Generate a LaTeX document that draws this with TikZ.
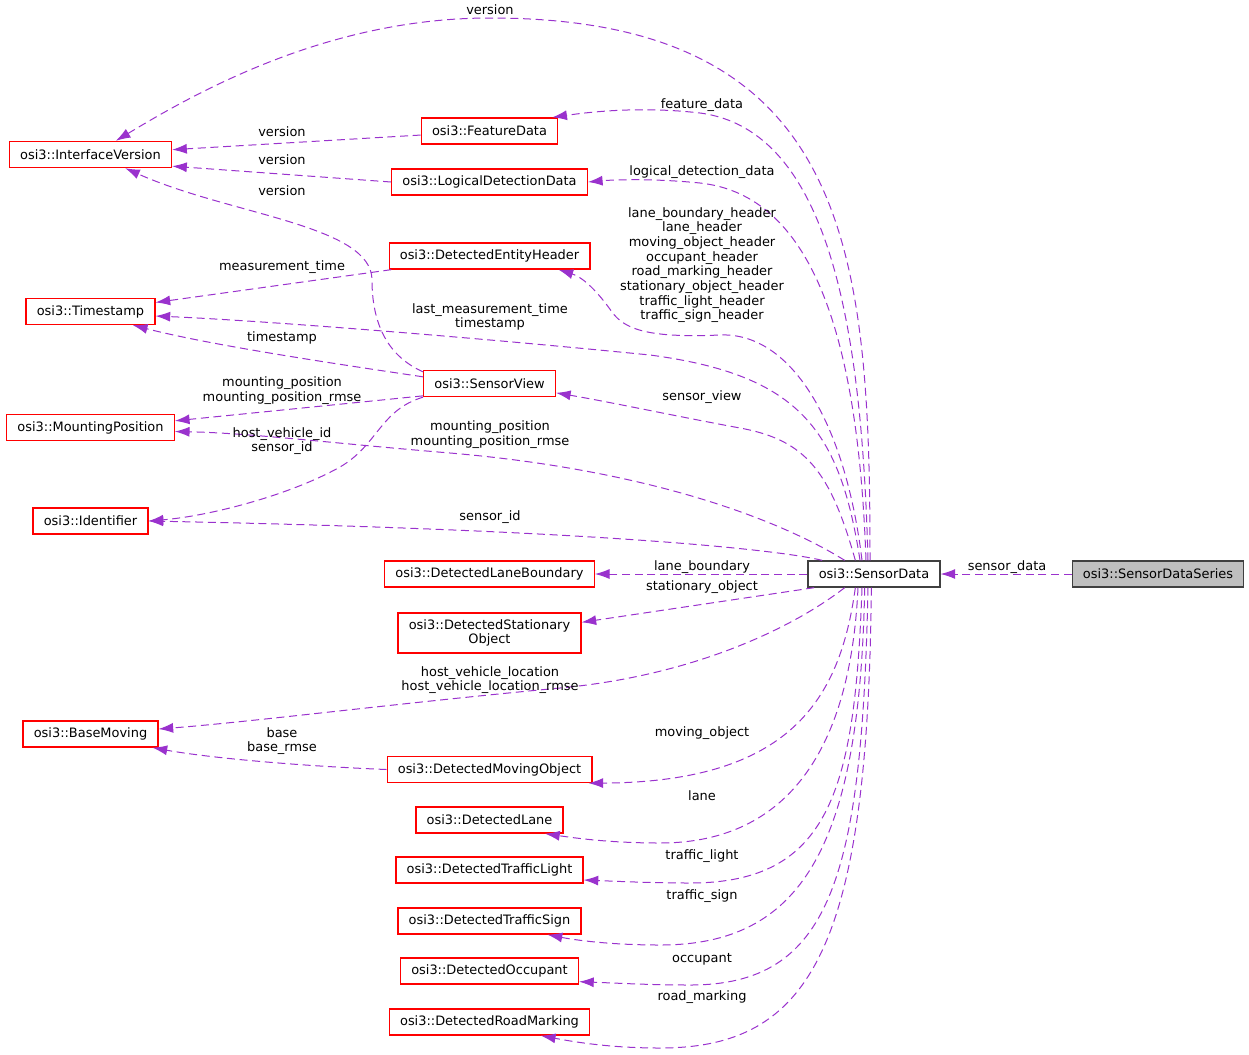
\documentclass[tikz,border=0pt]{standalone}
\usepackage{fontspec}
\setmainfont{DejaVu Sans}
\usetikzlibrary{arrows.meta}
\definecolor{edgecol}{RGB}{154,50,205}
\definecolor{sdsgray}{RGB}{191,191,191}
\definecolor{bordergray}{RGB}{64,64,64}

\begin{document}
\begin{tikzpicture}[x=0.75pt,y=-0.75pt,
    every node/.style={font=\fontsize{9.7}{11}\selectfont},
    cls/.style={draw=red, line width=1pt, inner xsep=8pt, inner ysep=0pt, minimum height=19.5pt},
    cur/.style={draw=bordergray, line width=1pt, inner xsep=8pt, inner ysep=0pt, minimum height=19.5pt},
    lbl/.style={align=center, inner sep=0pt},
    member/.style={draw=edgecol, line width=0.75pt, dash pattern=on 6pt off 3.5pt, -{Latex[length=11pt,width=7.5pt]}}]
  \useasboundingbox (0,0) rectangle (1249,1054);

  % classes
  \node[cls] (iv) at (90.5,154.5) {osi3::InterfaceVersion};
  \node[cls] (fd) at (489.5,131) {osi3::FeatureData};
  \node[cls] (ldd) at (489.5,182) {osi3::LogicalDetectionData};
  \node[cls] (deh) at (489.5,256) {osi3::DetectedEntityHeader};
  \node[cls] (ts) at (90.5,311.5) {osi3::Timestamp};
  \node[cls] (sv) at (489.5,383.5) {osi3::SensorView};
  \node[cls] (mp) at (90.5,427.5) {osi3::MountingPosition};
  \node[cls] (id) at (90.5,521) {osi3::Identifier};
  \node[cls] (dlb) at (489.5,574) {osi3::DetectedLaneBoundary};
  \node[cls, align=center, minimum height=30pt] (dso) at (489.5,633) {osi3::DetectedStationary\\Object};
  \node[cls] (bm) at (90.5,734) {osi3::BaseMoving};
  \node[cls] (dmo) at (489.5,769.5) {osi3::DetectedMovingObject};
  \node[cls] (dl) at (489.5,820) {osi3::DetectedLane};
  \node[cls] (dtl) at (489.5,870) {osi3::DetectedTrafficLight};
  \node[cls] (dts) at (489.5,921) {osi3::DetectedTrafficSign};
  \node[cls] (docc) at (489.5,971) {osi3::DetectedOccupant};
  \node[cls] (drm) at (489.5,1022) {osi3::DetectedRoadMarking};
  \node[cur] (sd) at (874,574) {osi3::SensorData};
  \node[cur, fill=sdsgray] (sds) at (1158,574) {osi3::SensorDataSeries};

  % members of SensorData, upper side
  \draw[member] ([xshift=-3pt]sd.north) .. controls (870,250) and (850,18) .. (490,18)
    .. controls (330,18) and (200,90) .. ([xshift=19pt]iv.north);
  \draw[member] ([xshift=-4.5pt]sd.north) .. controls (862,330) and (830,130) .. (700,113)
    .. controls (640,106) and (590,112) .. ([xshift=-4.5pt]fd.north east);
  \draw[member] ([xshift=-6pt]sd.north) .. controls (858,330) and (810,195) .. (700,183)
    .. controls (650,178) and (610,180) .. (ldd.east);
  \draw[member] ([xshift=-9pt]sd.north) .. controls (845,420) and (790,332) .. (720,335)
    .. controls (650,338) and (625,330) .. (612,312)
    .. controls (600,295) and (585,278) .. ([xshift=-24pt]deh.south east);
  \draw[member] ([xshift=-10.5pt]sd.north) .. controls (840,430) and (800,375) .. (650,355)
    .. controls (450,335) and (250,320) .. ([yshift=-3.4pt]ts.east);
  \draw[member] ([xshift=-14pt]sd.north) .. controls (830,470) and (805,440) .. (740,428)
    .. controls (680,417) and (610,402) .. ([yshift=-7pt]sv.east);
  \draw[member] ([xshift=-22pt]sd.north) .. controls (780,520) and (650,470) .. (450,453)
    .. controls (330,443) and (250,433) .. ([yshift=-3pt]mp.east);
  \draw[member] ([xshift=11pt]sd.north west) .. controls (780,550) and (600,530) .. (id.east);
  \draw[member] (sd) -- (dlb);
  \draw[member] ([xshift=5pt]sd.south west) -- ([yshift=8pt]dso.east);

  % members of SensorData, lower side
  \draw[member] ([xshift=-22pt]sd.south) .. controls (790,630) and (690,676) .. (560,688)
    .. controls (400,703) and (250,722) .. ([yshift=3.75pt]bm.east);
  \draw[member] ([xshift=-14pt]sd.south) .. controls (840,700) and (790,782) .. ([xshift=-3pt]dmo.south east);
  \draw[member] ([xshift=-12pt]sd.south) .. controls (850,760) and (780,843) .. (660,843)
    .. controls (610,843) and (575,838) .. ([xshift=-14pt]dl.south east);
  \draw[member] ([xshift=-9pt]sd.south) .. controls (855,790) and (830,883) .. (690,883)
    .. controls (650,883) and (610,881) .. ([yshift=-7.5pt]dtl.east);
  \draw[member] ([xshift=-7pt]sd.south) .. controls (860,850) and (800,945) .. (660,945)
    .. controls (610,945) and (575,940) .. ([xshift=-25.5pt]dts.south east);
  \draw[member] ([xshift=-4.5pt]sd.south) .. controls (862,880) and (830,985) .. (690,985)
    .. controls (650,985) and (615,983) .. ([yshift=-8pt]docc.east);
  \draw[member] ([xshift=-2pt]sd.south) .. controls (868,950) and (810,1048) .. (660,1048)
    .. controls (610,1048) and (575,1042) .. ([xshift=-37pt]drm.south east);

  % other members
  \draw[member] (fd) -- (iv);
  \draw[member] (ldd.west) -- ([yshift=1.5pt]iv.south east);
  \draw[member] ([yshift=-1.5pt]sv.north west) .. controls (385,355) and (372,320) .. (372,280)
    .. controls (372,225) and (230,215) .. ([xshift=26pt]iv.south);
  \draw[member] (deh) -- (ts);
  \draw[member] ([yshift=5pt]sv.west) .. controls (330,363) and (210,345) .. ([xshift=-17pt]ts.south east);
  \draw[member] ([yshift=1pt]sv.south west) -- ([yshift=5pt]mp.east);
  \draw[member] (sv.south west) .. controls (380,410) and (378,445) .. (340,467)
    .. controls (290,495) and (210,516) .. (id.east);
  \draw[member] (dmo.west) .. controls (300,766) and (210,758) .. ([xshift=-4.5pt]bm.south east);
  \draw[member] (sds) -- (sd);

  % labels
  \node[lbl] (lver1) at (490,10) {version};
  \node[lbl] (lfeat) at (702,105) {feature\_data};
  \node[lbl] (lver2) at (282,132) {version};
  \node[lbl] (lver3) at (282,160) {version};
  \node[lbl] (lldd) at (702,172) {logical\_detection\_data};
  \node[lbl] (lver4) at (282,191) {version};
  \node[lbl] (lhdr) at (702,265) {lane\_boundary\_header\\lane\_header\\moving\_object\_header\\occupant\_header\\road\_marking\_header\\stationary\_object\_header\\traffic\_light\_header\\traffic\_sign\_header};
  \node[lbl] (lmeas) at (282,267) {measurement\_time};
  \node[lbl] (llast) at (490,317) {last\_measurement\_time\\timestamp};
  \node[lbl] (lts) at (282,338) {timestamp};
  \node[lbl] (lmp1) at (282,390.5) {mounting\_position\\mounting\_position\_rmse};
  \node[lbl] (lsv) at (702,397) {sensor\_view};
  \node[lbl] (lhost) at (282,441) {host\_vehicle\_id\\sensor\_id};
  \node[lbl] (lmp2) at (490,434.5) {mounting\_position\\mounting\_position\_rmse};
  \node[lbl] (lsid) at (490,517) {sensor\_id};
  \node[lbl] (llb) at (702,567) {lane\_boundary};
  \node[lbl] (lso) at (702,587) {stationary\_object};
  \node[lbl] (lhvl) at (490,680) {host\_vehicle\_location\\host\_vehicle\_location\_rmse};
  \node[lbl] (lbase) at (282,741) {base\\base\_rmse};
  \node[lbl] (lmo) at (702,733) {moving\_object};
  \node[lbl] (llane) at (702,796) {lane};
  \node[lbl] (ltl) at (702,856) {traffic\_light};
  \node[lbl] (ltsg) at (702,896) {traffic\_sign};
  \node[lbl] (locc) at (702,959) {occupant};
  \node[lbl] (lrm) at (702,997) {road\_marking};
  \node[lbl] (lsd) at (1007,567) {sensor\_data};
\end{tikzpicture}
\end{document}
